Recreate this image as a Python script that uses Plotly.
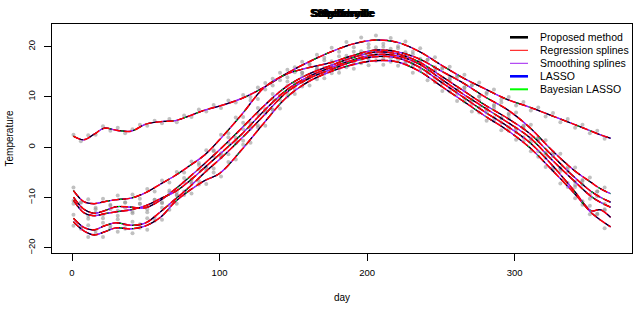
import plotly.graph_objects as go

# ---------------- data ----------------
knot_days = [1, 8, 15, 22, 30, 40, 50, 60, 70, 80, 90, 100, 115, 130, 145, 160, 175,
             190, 205, 220, 235, 250, 265, 280, 295, 310, 325, 340, 352, 358, 365]

fit_A = [2.2, 1.5, 2.6, 3.8, 3.4, 3.2, 4.6, 5.1, 5.3, 6.3, 7.4, 8.2, 9.7, 11.9, 14.6, 16.9, 18.9,
         20.5, 21.3, 20.9, 19.1, 16.4, 13.8, 11.6, 9.5, 8.0, 6.3, 4.6, 3.2, 2.5, 1.8]
fit_B = [-8.6, -10.8, -11.2, -10.8, -10.4, -10.1, -9.0, -7.3, -5.6, -3.6, -1.5, 1.5, 6.5, 11.8, 14.5, 15.8, 16.8,
         18.2, 19.3, 19.0, 17.6, 15.2, 12.8, 10.0, 7.5, 4.0, -0.5, -4.5, -7.0, -8.2, -9.2]
fit_C = [-9.9, -12.3, -13.1, -12.6, -11.8, -11.9, -12.0, -10.5, -8.3, -5.8, -3.2, -0.5, 3.8, 8.2, 12.0, 14.5, 16.2,
         17.8, 18.9, 18.6, 17.0, 14.2, 11.3, 8.4, 5.8, 2.8, -1.5, -5.8, -8.8, -9.9, -10.9]
fit_D = [-10.5, -13.0, -13.6, -13.2, -12.8, -12.4, -11.6, -10.2, -8.8, -6.6, -4.0, -1.4, 2.6, 7.2, 11.3, 14.0, 15.8,
         17.3, 18.4, 18.2, 16.6, 13.6, 10.6, 7.8, 5.0, 2.0, -2.4, -6.6, -9.8, -10.9, -11.9]
fit_E = [-14.1, -15.9, -16.4, -15.6, -15.0, -15.5, -15.0, -12.8, -10.3, -7.8, -5.0, -2.4, 1.8, 6.3, 10.8, 13.6, 15.4,
         17.0, 18.0, 17.8, 16.0, 13.0, 10.0, 7.0, 4.2, 1.0, -3.4, -8.5, -12.6, -12.4, -13.9]
fit_F = [-14.8, -16.6, -17.4, -16.8, -16.0, -16.2, -15.6, -13.9, -10.8, -8.5, -6.6, -5.2, -0.5, 4.8, 9.8, 13.0, 15.0,
         16.4, 17.2, 17.0, 15.2, 12.2, 9.2, 6.2, 3.4, 0.0, -4.4, -9.0, -13.0, -14.4, -15.8]

obs_days = list(range(1, 366, 5))

obs_A = [2.5, 1.2, 2.4, 2.5, 4.2, 3.3, 3.9, 2.8, 3.6, 4.5, 4.3, 5.3, 4.8, 5.6, 5.0, 6.3, 6.0, 7.5, 7.1, 8.4,
         7.8, 9.3, 8.9, 10.4, 10.0, 11.9, 11.5, 13.6, 13.3, 15.4, 14.9, 17.0, 16.4, 18.4, 17.8, 19.8, 19.0, 20.9, 19.9, 21.8,
         20.5, 22.2, 20.6, 21.7, 20.1, 21.0, 19.0, 19.7, 17.4, 17.9, 15.6, 16.0, 13.9, 14.4, 12.3, 12.9, 10.9, 11.5, 9.5, 10.0,
         8.3, 9.0, 7.3, 7.9, 6.1, 6.8, 5.0, 5.6, 3.9, 4.5, 2.8, 3.3, 1.7]
obs_B = [-8.0, -10.9, -10.3, -12.0, -10.2, -11.4, -9.6, -10.9, -9.4, -10.2, -8.3, -8.8, -6.6, -7.0, -4.9, -5.0, -2.8, -3.1, -0.6, -0.6,
         2.5, 2.8, 5.9, 6.0, 9.3, 9.6, 12.8, 12.3, 14.8, 13.9, 15.9, 14.8, 16.6, 15.5, 17.3, 16.2, 18.1, 17.2, 19.0, 18.1,
         19.8, 18.6, 20.0, 18.4, 19.7, 17.9, 18.5, 16.8, 17.4, 15.2, 15.8, 13.5, 14.2, 11.9, 12.4, 10.1, 10.6, 8.4, 8.9, 6.7,
         6.9, 4.2, 4.5, 1.8, 1.4, -1.5, -1.3, -4.3, -4.0, -6.5, -6.0, -8.8, -8.0]
obs_C = [-10.6, -11.0, -13.6, -12.3, -13.4, -11.6, -12.6, -11.0, -12.8, -11.2, -12.9, -10.4, -11.1, -8.6, -8.9, -6.1, -6.4, -3.5, -3.8, -0.8,
         -1.2, 2.0, 1.9, 4.9, 4.8, 7.8, 7.6, 10.6, 10.2, 13.1, 12.3, 14.8, 13.9, 16.0, 15.0, 17.1, 16.1, 18.2, 17.1, 19.1,
         17.8, 19.9, 18.1, 19.6, 17.8, 18.9, 16.7, 17.6, 15.2, 15.9, 13.2, 13.8, 11.3, 11.9, 9.3, 10.1, 7.5, 8.2, 5.7, 6.4,
         3.7, 4.3, 1.8, 1.9, -1.1, -1.0, -4.1, -3.9, -6.8, -6.7, -9.4, -8.8, -11.2]
obs_D = [-11.2, -12.0, -14.2, -13.0, -14.1, -12.3, -13.6, -12.0, -13.1, -11.2, -12.3, -10.4, -10.9, -9.0, -9.5, -7.0, -7.2, -4.4, -4.6, -1.8,
         -2.0, 0.9, 0.8, 3.6, 3.7, 6.6, 6.7, 9.6, 9.4, 12.2, 11.6, 14.2, 13.3, 15.5, 14.6, 16.7, 15.6, 17.7, 16.6, 18.6,
         17.4, 19.3, 17.6, 19.1, 17.4, 18.4, 16.2, 17.3, 14.8, 15.2, 12.7, 13.2, 10.6, 11.3, 8.6, 9.3, 6.9, 7.7, 4.9, 5.7,
         3.0, 3.8, 1.0, 1.3, -2.1, -1.8, -4.7, -4.8, -7.5, -7.4, -10.2, -9.7, -12.3]
obs_E = [-13.4, -16.2, -15.5, -17.2, -15.0, -16.1, -14.3, -16.2, -14.8, -16.0, -14.1, -14.6, -12.0, -12.4, -9.5, -9.5, -7.0, -7.4, -4.2, -4.2,
         -1.6, -1.4, 1.4, 1.3, 4.3, 4.4, 7.4, 7.4, 10.3, 10.1, 12.7, 12.1, 14.4, 13.5, 15.8, 14.7, 16.8, 15.9, 17.9, 16.7,
         18.7, 17.2, 18.8, 17.0, 18.6, 16.8, 17.2, 15.2, 15.6, 13.0, 13.8, 11.1, 11.5, 9.1, 9.5, 6.9, 7.6, 5.3, 5.8, 3.3,
         3.7, 1.2, 1.6, -1.9, -1.3, -4.5, -4.2, -7.9, -7.9, -11.4, -11.6, -13.3, -12.5]
obs_F = [-15.6, -15.9, -17.8, -16.6, -17.8, -15.6, -16.8, -15.4, -17.1, -15.3, -16.4, -14.0, -14.4, -11.5, -11.2, -8.8, -9.2, -6.7, -7.3, -5.0,
         -5.8, -2.9, -2.4, 0.5, 0.9, 4.0, 4.3, 7.5, 7.7, 10.8, 10.6, 13.0, 12.3, 14.6, 13.7, 15.9, 14.8, 16.9, 15.6, 17.5,
         16.3, 18.0, 16.4, 17.7, 16.2, 16.8, 14.8, 15.8, 13.3, 13.8, 11.2, 11.9, 9.2, 9.8, 7.1, 7.9, 5.3, 5.9, 3.4, 4.0,
         1.5, 2.0, -0.8, -0.8, -3.9, -4.0, -7.2, -7.1, -10.1, -10.7, -13.3, -13.2, -16.1]

fits = [fit_A, fit_B, fit_C, fit_D, fit_E, fit_F]
observations = [obs_A, obs_B, obs_C, obs_D, obs_E, obs_F]
station_titles = ["Sherbrooke", "Schefferville", "Stephenville", "St. Johns", "Sydney", "Scheffervile"]

method_names = ["Proposed method", "Regression splines", "Smoothing splines", "LASSO", "Bayesian LASSO"]
method_colors = ["#000000", "#FF0000", "#A020F0", "#0000FF", "#00FF00"]
method_legend_widths = [2.6, 1.0, 1.0, 2.6, 2.0]

FONT = "Liberation Sans, Arial, Helvetica, sans-serif"

fig = go.Figure()

for obs in observations:
    fig.add_trace(go.Scatter(x=obs_days, y=obs, mode="markers",
                             marker=dict(size=4.0, color="rgba(140,140,140,0.55)"),
                             showlegend=False, hoverinfo="skip"))

# draw fits: blue (hidden), purple, black, green, red on top
draw_order = [
    (3, dict(width=1.0, dash="solid")),
    (2, dict(width=1.4, dash="solid")),
    (0, dict(width=1.2, dash="10px,6px")),
    (4, dict(width=1.0, dash="2px,11px")),
    (1, dict(width=1.5, dash="7px,4px")),
]
for fit in fits:
    for mi, style in draw_order:
        fig.add_trace(go.Scatter(x=knot_days, y=fit, mode="lines",
                                 line=dict(color=method_colors[mi], shape="spline", smoothing=1.0, **style),
                                 showlegend=False, hoverinfo="skip"))

W, H = 634, 317
PLOT_LEFT, PLOT_RIGHT, PLOT_TOP, PLOT_BOTTOM = 52, 632, 24, 253
L, R, T, B = PLOT_LEFT, W - PLOT_RIGHT, PLOT_TOP, H - PLOT_BOTTOM
pw, ph = PLOT_RIGHT - PLOT_LEFT, PLOT_BOTTOM - PLOT_TOP

def px2x(px):
    return (px - PLOT_LEFT) / pw

def px2y(py):
    return (PLOT_BOTTOM - py) / ph

shapes = []
annotations = []
leg_y = [37.3, 50.3, 63.3, 76.3, 89.3]
for i, name in enumerate(method_names):
    shapes.append(dict(type="line", xref="paper", yref="paper",
                       x0=px2x(510), x1=px2x(528), y0=px2y(leg_y[i]), y1=px2y(leg_y[i]),
                       line=dict(color=method_colors[i], width=method_legend_widths[i])))
    annotations.append(dict(text=name, xref="paper", yref="paper", x=px2x(538), y=px2y(leg_y[i]),
                            xanchor="left", yanchor="middle", showarrow=False,
                            font=dict(family=FONT, size=10.5, color="black")))

for t in station_titles:
    annotations.append(dict(text="<b>" + t + "</b>", xref="paper", yref="paper", x=px2x(342), y=px2y(12.5),
                            xanchor="center", yanchor="middle", showarrow=False,
                            font=dict(family=FONT, size=11, color="black")))

annotations.append(dict(text="Temperature", xref="paper", yref="paper", x=px2x(9), y=0.5,
                        textangle=-90, xanchor="center", yanchor="middle", showarrow=False,
                        font=dict(family=FONT, size=10, color="black")))
annotations.append(dict(text="day", xref="paper", yref="paper", x=px2x(342), y=px2y(297),
                        xanchor="center", yanchor="middle", showarrow=False,
                        font=dict(family=FONT, size=10, color="black")))

fig.update_layout(
    width=W, height=H,
    margin=dict(l=L, r=R, t=T, b=B, autoexpand=False),
    paper_bgcolor="white", plot_bgcolor="white",
    showlegend=False,
    shapes=shapes, annotations=annotations,
    font=dict(family=FONT, size=10, color="black"),
)
fig.update_xaxes(range=[-13.56, 379.56], tickvals=[0, 100, 200, 300], ticks="outside", ticklen=7,
                 ticklabelstandoff=4,
                 tickcolor="black", showline=True, linecolor="black", linewidth=1, mirror=True,
                 showgrid=False, zeroline=False, tickfont=dict(family=FONT, size=9.5, color="black"))
fig.update_yaxes(range=[-21.0, 24.5], tickvals=[-20, -10, 0, 10, 20], ticktext=["\u221220", "\u221210", "0", "10", "20"],
                 ticks="outside", ticklen=7, tickangle=-90, ticklabelstandoff=5,
                 tickcolor="black", showline=True, linecolor="black", linewidth=1, mirror=True,
                 showgrid=False, zeroline=False, tickfont=dict(family=FONT, size=9.5, color="black"))

fig.write_html("out.html", config={"displayModeBar": False, "staticPlot": True},
               post_script="document.body.style.margin='0px';document.body.style.overflow='hidden';")
